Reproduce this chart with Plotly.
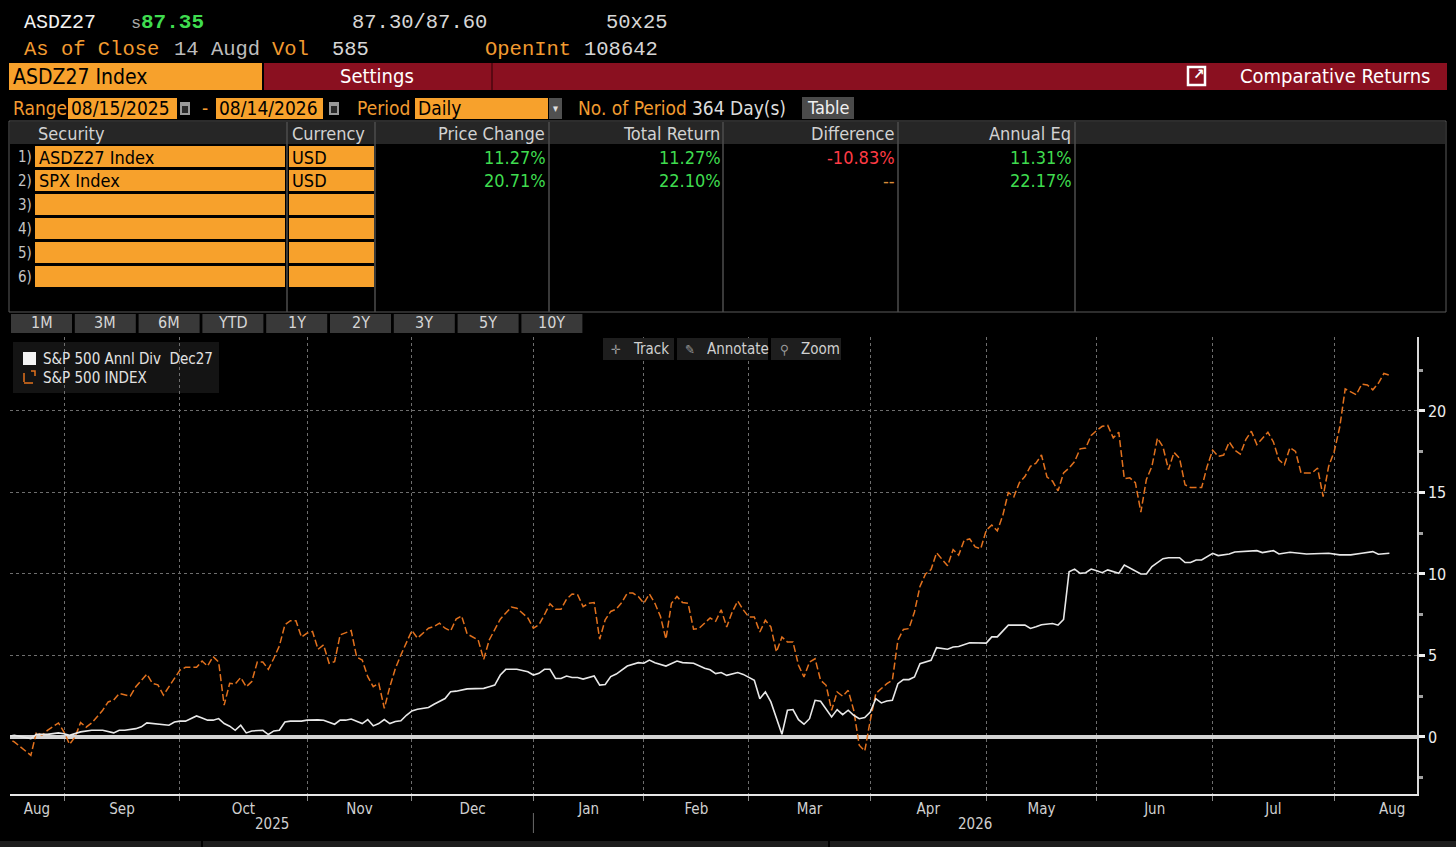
import plotly.graph_objects as go

W, H = 1456, 847

# trading day number since 08/15/2025 and cumulative return in %
spx_day = [
    0, 2, 5, 6, 7, 8, 10, 11, 12, 13,
    14, 15, 16, 17, 18, 19, 20, 21, 23, 24,
    26, 27, 28, 29, 30, 31, 32, 33, 35, 36,
    37, 38, 39, 40, 41, 42, 43, 44, 45, 46,
    47, 48, 49, 50, 51, 52, 53, 54, 55, 56,
    57, 58, 59, 60, 61, 63, 64, 65, 66, 67,
    68, 69, 70, 71, 72, 74, 75, 77, 78, 79,
    80, 81, 82, 83, 84, 85, 86, 87, 88, 90,
    92, 93, 95, 96, 97, 98, 99, 100, 101, 102,
    103, 104, 105, 106, 107, 108, 109, 110, 111, 112,
    113, 114, 115, 116, 117, 118, 119, 120, 121, 122,
    123, 124, 125, 126, 128, 129, 130, 131, 132, 133,
    134, 135, 136, 137, 138, 139, 140, 141, 142, 143,
    144, 145, 146, 147, 148, 149, 150, 151, 152, 153,
    154, 155, 156, 157, 158, 159, 160, 161, 162, 163,
    164, 165, 166, 167, 168, 169, 171, 172, 173, 174,
    175, 176, 177, 178, 179, 180, 181, 182, 183, 184,
    185, 186, 187, 188, 189, 190, 191, 192, 193, 194,
    195, 196, 197, 198, 199, 200, 201, 202, 203, 204,
    205, 206, 207, 208, 209, 210, 211, 212, 213, 214,
    215, 217, 218, 219, 220, 221, 222, 223, 224, 225,
    226, 227, 229, 230, 231, 232, 233, 234, 235, 237,
    238, 239, 240, 241, 242, 243, 244, 245, 246, 247,
    248, 249, 250, 251,
]
spx_ret = [
    0.0, -0.3, -1.13, 0.3, 0.1, 0.4, 0.86, 0.3, -0.45, 0.0,
    0.88, 0.6, 0.85, 1.23, 1.64, 2.15, 2.26, 2.67, 2.5, 3.08,
    3.86, 3.29, 3.2, 2.57, 3.12, 3.59, 4.1, 4.27, 4.27, 4.66,
    4.35, 4.93, 4.6, 1.95, 3.29, 3.25, 3.65, 3.08, 3.4, 4.6,
    4.6, 4.15, 4.83, 5.59, 6.88, 7.13, 7.13, 6.12, 6.37, 6.47,
    5.38, 5.65, 4.52, 4.62, 6.26, 6.53, 4.9, 4.72, 3.7, 3.08,
    3.29, 1.75, 3.08, 4.2, 5.03, 6.53, 6.06, 6.67, 6.78, 6.98,
    6.67, 6.5, 7.23, 7.43, 6.32, 6.16, 5.95, 4.76, 5.95, 7.23,
    7.97, 7.9, 7.3, 6.67, 6.88, 7.5, 8.17, 7.84, 7.84, 8.46,
    8.77, 8.73, 8.0, 8.2, 8.25, 6.0, 7.19, 7.7, 7.84, 8.25,
    8.83, 8.83, 8.62, 8.2, 8.77, 8.2, 7.4, 6.0, 8.2, 8.62,
    8.25, 8.2, 6.61, 6.67, 7.3, 7.1, 7.8, 6.75, 7.67, 8.34,
    7.8, 7.36, 7.36, 6.44, 7.16, 6.75, 5.21, 6.13, 5.83, 5.83,
    4.4, 3.68, 4.6, 4.8, 3.48, 3.17, 1.64, 2.76, 2.5, 2.86,
    1.64, -0.51, -0.86, 1.02, 2.66, 2.97, 3.27, 3.48, 5.93, 6.6,
    6.65, 7.67, 9.24, 10.0, 10.27, 11.3, 10.5, 11.5, 11.15, 12.07,
    12.15, 11.66, 11.55, 12.68, 13.0, 12.64, 13.6, 15.0, 14.74, 15.6,
    15.98, 16.6, 16.8, 17.3, 15.95, 15.7, 15.1, 16.2, 16.5, 16.9,
    17.68, 17.73, 18.5, 18.8, 19.06, 19.12, 18.35, 18.7, 15.85, 15.9,
    15.6, 13.8, 15.8, 16.6, 18.34, 17.8, 16.4, 17.46, 17.1, 15.47,
    15.3, 15.3, 16.6, 17.6, 17.22, 17.3, 18.1, 17.6, 17.35, 18.24,
    18.76, 17.94, 18.7, 18.1, 17.0, 16.7, 17.76, 17.52, 16.2, 16.2,
    16.5, 14.75, 16.6, 17.5, 19.0, 21.35, 21.2, 21.0, 21.65, 21.6,
    21.3, 21.7, 22.3, 22.2,
]

asd_day = [
    0, 2, 5, 6, 8, 10, 11, 12, 14, 16,
    18, 20, 21, 22, 24, 25, 26, 27, 29, 30,
    31, 32, 33, 34, 35, 36, 37, 38, 39, 40,
    41, 42, 43, 44, 45, 47, 48, 49, 50, 51,
    52, 54, 55, 57, 58, 60, 61, 62, 63, 65,
    66, 67, 68, 69, 70, 71, 72, 73, 74, 75,
    76, 77, 78, 80, 81, 82, 84, 87, 88, 89,
    90, 91, 93, 95, 96, 97, 98, 99, 100, 101,
    102, 103, 104, 105, 107, 108, 109, 110, 111, 113,
    115, 116, 117, 118, 120, 122, 123, 125, 127, 128,
    129, 130, 131, 133, 134, 135, 136, 137, 138, 139,
    141, 142, 143, 144, 145, 146, 147, 148, 149, 150,
    151, 152, 153, 154, 155, 156, 157, 158, 159, 160,
    161, 162, 163, 164, 165, 166, 168, 169, 171, 172,
    173, 175, 178, 179, 180, 182, 185, 186, 187, 188,
    190, 191, 192, 193, 194, 195, 196, 197, 198, 199,
    200, 202, 203, 204, 206, 207, 208, 210, 211, 213,
    214, 215, 216, 217, 219, 220, 222, 223, 227, 228,
    230, 231, 233, 236, 240, 242, 244, 246, 248, 249,
    251,
]
asd_ret = [
    0.0, 0.1, -0.1, 0.16, 0.16, 0.25, 0.2, 0.1, 0.31, 0.41,
    0.41, 0.25, 0.41, 0.41, 0.51, 0.62, 0.86, 0.82, 0.72, 0.72,
    0.92, 0.97, 0.97, 1.11, 1.29, 1.17, 1.03, 1.03, 1.13, 0.82,
    0.66, 0.41, 0.72, 0.25, 0.37, 0.41, 0.15, 0.37, 0.41, 0.92,
    0.97, 0.97, 1.03, 1.05, 1.03, 0.78, 1.03, 1.03, 1.1, 0.82,
    1.07, 0.68, 0.82, 1.07, 0.82, 0.95, 0.99, 1.33, 1.6, 1.7,
    1.75, 1.81, 2.01, 2.36, 2.77, 2.81, 2.95, 2.98, 3.08, 3.18,
    3.8, 4.15, 4.15, 4.0, 3.8, 3.9, 4.15, 4.15, 3.59, 3.59,
    3.74, 3.65, 3.65, 3.55, 3.74, 3.18, 3.22, 3.7, 3.86, 4.35,
    4.56, 4.52, 4.72, 4.56, 4.35, 4.66, 4.56, 4.52, 4.21, 4.12,
    3.89, 3.95, 3.78, 3.95, 3.84, 3.68, 3.48, 2.35, 2.76, 2.15,
    0.16, 1.64, 1.68, 1.06, 0.78, 1.12, 2.25, 2.19, 1.74, 1.23,
    1.68, 1.37, 1.64, 1.33, 1.12, 1.19, 1.53, 2.35, 2.09, 2.21,
    2.25, 3.27, 3.52, 3.52, 3.68, 4.5, 4.7, 5.48, 5.38, 5.52,
    5.55, 5.78, 5.76, 6.14, 6.14, 6.86, 6.86, 6.66, 6.76, 6.89,
    6.96, 6.86, 7.21, 10.14, 10.3, 10.04, 10.08, 10.3, 10.2, 10.08,
    10.25, 10.04, 10.55, 10.35, 10.0, 10.0, 10.45, 10.94, 11.0, 11.0,
    10.7, 10.7, 10.86, 10.86, 11.27, 11.13, 11.23, 11.35, 11.43, 11.31,
    11.43, 11.23, 11.33, 11.23, 11.27, 11.17, 11.17, 11.27, 11.37, 11.21,
    11.27,
]

# x axis: first trading day of each month, month names, years
month_names = ["Aug", "Sep", "Oct", "Nov", "Dec", "Jan", "Feb", "Mar",
               "Apr", "May", "Jun", "Jul", "Aug"]
month_start = [11, 32, 55, 74, 96, 116, 135, 157, 178, 198, 219, 241]
year_names = ["2025", "2026"]
x_lo, x_hi = 1.22, 256.0
y_lo, y_hi = -3.5, 24.54
y_ticks = [0, 5, 10, 15, 20]

# table contents
securities = ["ASDZ27 Index", "SPX Index", "", "", "", ""]
currencies = ["USD", "USD", "", "", "", ""]
price_change = ["11.27%", "20.71%"]
total_return = ["11.27%", "22.10%"]
difference = ["-10.83%", "--"]
annual_eq = ["11.31%", "22.17%"]
periods = ["1M", "3M", "6M", "YTD", "1Y", "2Y", "3Y", "5Y", "10Y"]

assert len(spx_day) == len(spx_ret) and len(asd_day) == len(asd_ret)

MONO = "Liberation Mono, DejaVu Sans Mono, monospace"
NARROW = "Liberation Sans Narrow, DejaVu Sans Condensed, Roboto Condensed, Roboto, sans-serif"
ORANGE = "#f7a12c"
ORANGE_TXT = "#f29b30"
RED_BAR = "#8a1020"
GREEN = "#3fdc4f"
GREY = "#c9c9c9"

shapes = []
notes = []


def px(x):
    return x / W


def py(y):
    return 1 - y / H


def box(x0, y0, x1, y1, fill=None, line=None, lw=1, dash=None, layer="below"):
    shapes.append(dict(
        type="rect", xref="paper", yref="paper",
        x0=px(x0), x1=px(x1), y0=py(y1), y1=py(y0),
        fillcolor=fill or "rgba(0,0,0,0)",
        line=dict(color=line or "rgba(0,0,0,0)", width=lw if line else 0, dash=dash),
        layer=layer))


def vline(x, y0, y1, color, w=1):
    shapes.append(dict(type="line", xref="paper", yref="paper",
                       x0=px(x), x1=px(x), y0=py(y0), y1=py(y1),
                       line=dict(color=color, width=w), layer="below"))


def text(x, y, s, color=GREY, size=18, anchor="left", family=NARROW):
    notes.append(dict(x=px(x), y=py(y), xref="paper", yref="paper", text=s,
                      showarrow=False, xanchor=anchor, yanchor="middle",
                      font=dict(family=family, size=size, color=color)))


def calendar_icon(x0):
    box(x0, 102, x0 + 10, 115, "#9a9a9a")
    box(x0 + 2, 106, x0 + 8, 113, "#2a2a2a")


# ---- header lines
text(22, 22, "ASDZ27", "#f2f2f2", 20, family=MONO)
text(129, 24, "s", "#a8a8a8", 17, family=MONO)
text(139, 22, "<b>87.35</b>", GREEN, 21, family=MONO)
text(350, 22, "87.30/87.60", "#d6d6d6", 20.5, family=MONO)
text(604, 22, "50x25", "#d6d6d6", 20.5, family=MONO)
text(22, 49, "As of Close", ORANGE_TXT, 20.5, family=MONO)
text(172, 49, "14 Augd", "#bdbdbd", 20.5, family=MONO)
text(270, 49, "Vol", ORANGE_TXT, 20.5, family=MONO)
text(330, 49, "585", "#d6d6d6", 20.5, family=MONO)
text(483, 49, "OpenInt", ORANGE_TXT, 20.5, family=MONO)
text(582, 49, "108642", "#d6d6d6", 20.5, family=MONO)

# ---- title bar
box(9, 63, 262, 90, ORANGE)
text(11, 77, "ASDZ27 Index", "#000000", 21)
box(264, 63, 1447, 90, RED_BAR)
vline(492, 63, 90, "#5a0812", 2)
text(377, 76, "Settings", "#ffffff", 20, "center")
box(1188, 67, 1205, 85, line="#ffffff", lw=2.5)
text(1198, 74, "<b>↗</b>", "#ffffff", 15, "center")
text(1432, 76, "Comparative Returns", "#ffffff", 20, "right")

# ---- range line
text(11, 108, "Range", ORANGE_TXT, 19)
box(68, 98, 177, 119, ORANGE)
text(69, 108, "08/15/2025", "#000000", 19)
calendar_icon(180)
text(205, 108, "-", ORANGE_TXT, 19, "center")
box(216, 98, 323, 119, ORANGE)
text(217, 108, "08/14/2026", "#000000", 19)
calendar_icon(329)
text(355, 108, "Period", ORANGE_TXT, 19)
box(415, 98, 548, 119, ORANGE)
text(416, 108, "Daily", "#000000", 19)
box(549, 98, 562, 119, "#505050")
text(555, 109, "▾", "#e0e0e0", 11, "center")
text(576, 108, "No. of Period", ORANGE_TXT, 19)
text(690, 108, "364 Day(s)", "#dcdcdc", 19)
box(802, 97, 854, 119, "#4a4a4a")
text(828, 108, "Table", "#f0f0f0", 18, "center")

# ---- table
box(9, 121, 1446, 312, line="#5a5a5a")
box(10, 122, 1445, 144, "#262626")
for cx in [287, 375, 549, 723, 898, 1075]:
    vline(cx, 122, 312, "#4d4d4d", 1.5)
text(36, 133, "Security", "#d2d2d2", 18)
text(290, 133, "Currency", "#d2d2d2", 18)
text(547, 133, "Price Change", "#d2d2d2", 18, "right")
text(722, 133, "Total Return", "#d2d2d2", 18, "right")
text(896, 133, "Difference", "#d2d2d2", 18, "right")
text(1073, 133, "Annual Eq", "#d2d2d2", 18, "right")
for i in range(6):
    top = 145 + 24 * i
    box(35, top + 1, 285, top + 22, ORANGE)
    box(289, top + 1, 374, top + 22, ORANGE)
    text(34, top + 12, f"{i + 1})", "#c4c4c4", 15, "right")
    text(37, top + 12, securities[i], "#000000", 18)
    text(290, top + 12, currencies[i], "#000000", 18)
for i in range(len(price_change)):
    y = 145 + 24 * i + 12
    text(548, y, price_change[i], GREEN, 18, "right")
    text(723, y, total_return[i], GREEN, 18, "right")
    text(897, y, difference[i], "#ff3b45" if difference[i] != "--" else "#d98c3a", 18, "right")
    text(1074, y, annual_eq[i], GREEN, 18, "right")

# ---- period buttons
for i, p in enumerate(periods):
    x0 = 10 + 63.8 * i
    box(x0 + 1, 314, x0 + 62, 333, "#393939")
    text(x0 + 31.5, 323, p, "#d6d6d6", 16, "center")

# ---- legend and chart toolbar
box(13, 342, 219, 393, "#141414")
box(23, 352, 36, 365, "#f4f4f4")
box(24, 371, 35, 383, line="#e2711d", lw=1.5, dash="dash")
text(41, 359, "S&amp;P 500 Annl Div&nbsp;&nbsp;Dec27", "#e2e2e2", 15)
text(41, 378, "S&amp;P 500 INDEX", "#e2e2e2", 15)
for x0, x1, icon, label in [(603, 674, "✛", "Track"), (677, 768, "✎", "Annotate"),
                            (771, 841, "⚲", "Zoom")]:
    box(x0, 338, x1, 360, "#1e1e1e", layer="above")
    text(x0 + 13, 349, icon, "#9a9a9a", 13, "center")
    text(x0 + 28, 349, label, "#d0d0d0", 15)

# ---- bottom strip
box(0, 841, 1456, 847, "#1d1d1d")
vline(202, 841, 847, "#000000", 2)
vline(829, 841, 847, "#000000", 2)

# month label at the middle of each month's span on the axis
bounds = [x_lo] + month_start + [month_start[-1] + 21]
label_x = [(a + b) / 2 for a, b in zip(bounds[:-1], bounds[1:])]
year_x = [(x_lo + month_start[4]) / 2, (month_start[4] + x_hi) / 2]
for yx, yn in zip(year_x, year_names):
    notes.append(dict(x=yx, y=py(824), xref="x", yref="paper", text=yn, showarrow=False,
                      xanchor="center", yanchor="middle",
                      font=dict(family=NARROW, size=15, color="#cfcfcf")))
shapes.append(dict(type="line", xref="x", yref="paper", x0=month_start[4], x1=month_start[4],
                   y0=py(813), y1=py(833), line=dict(color="#6a6a6a", width=1)))

fig = go.Figure()
fig.add_trace(go.Scatter(x=spx_day, y=spx_ret, mode="lines", name="S&P 500 INDEX",
                         line=dict(color="#e2711d", width=1.5, dash="7px,3px")))
fig.add_trace(go.Scatter(x=asd_day, y=asd_ret, mode="lines", name="S&P 500 Annl Div  Dec27",
                         line=dict(color="#e8e8e8", width=1.6)))

fig.update_layout(
    width=W, height=H, autosize=False,
    margin=dict(l=0, r=0, t=0, b=0),
    paper_bgcolor="#000000", plot_bgcolor="#000000",
    showlegend=False,
    font=dict(family=NARROW, color=GREY),
    shapes=shapes, annotations=notes,
    xaxis=dict(
        domain=[px(10), px(1417)], range=[x_lo, x_hi],
        tickmode="array", tickvals=label_x, ticktext=month_names,
        ticks="", showgrid=False, zeroline=False,
        showline=True, linecolor="#e6e6e6", linewidth=2,
        tickfont=dict(family=NARROW, size=15, color="#d0d0d0"),
        minor=dict(tickmode="array", tickvals=month_start, showgrid=True,
                   gridcolor="#6e6e6e", griddash="dot", gridwidth=1,
                   ticks="outside", ticklen=5, tickcolor="#8a8a8a"),
    ),
    yaxis=dict(
        domain=[py(794), py(337)], range=[y_lo, y_hi], side="right",
        tickmode="array", tickvals=y_ticks,
        ticks="outside", ticklen=6, tickwidth=3, tickcolor="#eeeeee",
        showline=True, linecolor="#d8d8d8", linewidth=1.5,
        showgrid=True, gridcolor="#6e6e6e", griddash="dot", gridwidth=1,
        zeroline=True, zerolinecolor="#d4d4d4", zerolinewidth=4,
        tickfont=dict(family=NARROW, size=16, color="#eeeeee"),
        minor=dict(dtick=2.5, tick0=0, ticks="outside", ticklen=4,
                   tickcolor="#a0a0a0", showgrid=False),
    ),
)

fig.write_html("out.html", config={"displayModeBar": False},
               post_script="document.body.style.margin='0';document.body.style.overflow='hidden';")
